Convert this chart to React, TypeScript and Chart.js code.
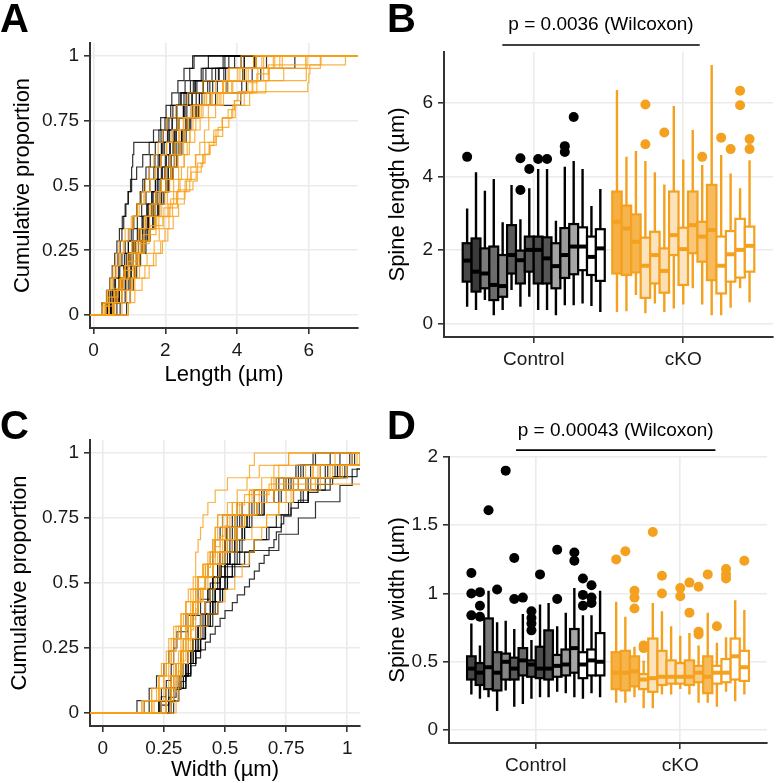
import React, { useEffect, useRef } from 'react';
import { Chart, registerables } from 'chart.js';
Chart.register(...registerables);

const FONT = "'Liberation Sans', Arial, Helvetica, sans-serif";
Chart.defaults.font.family = FONT;

// ---------- styles ----------
const CTRL_LINE = 'rgba(0,0,0,0.8)';
const CKO_LINE = 'rgba(247,160,25,0.8)';
const CTRL_STROKE = '#000000';
const CKO_STROKE = '#F4A11F';
const GRID = '#EBEBEB';
const AXIS = '#333333';
const TEXT = '#1a1a1a';
const CTRL_FILLS = ['#474747', '#3a3a3a', '#7a7a7a', '#6b6b6b', '#858585', '#5a5a5a', '#6a6a6a', '#545454', '#4b4b4b', '#555555', '#a3a3a3', '#9a9a9a', '#a6a6a6', '#ffffff', '#ffffff', '#ffffff'];
const CKO_FILL_ALPHA = [0.85, 0.8, 0.8, 0.3, 0.3, 0.35, 0.3, 0.28, 0.6, 0.55, 0.72, 0, 0, 0, 0];

// ---------- categories & ticks ----------
const GROUPS = ['Control', 'cKO'];
const PROP_TICKS = [0, 0.25, 0.5, 0.75, 1];
const PROP_LABELS = ['0', '0.25', '0.5', '0.75', '1'];
const LEN_X_TICKS = [0, 2, 4, 6];
const LEN_X_LABELS = ['0', '2', '4', '6'];
const WID_X_TICKS = [0, 0.25, 0.5, 0.75, 1];
const WID_X_LABELS = ['0', '0.25', '0.5', '0.75', '1'];
const LEN_Y_TICKS = [0, 2, 4, 6];
const LEN_Y_LABELS = ['0', '2', '4', '6'];
const WID_Y_TICKS = [0, 0.5, 1, 1.5, 2];
const WID_Y_LABELS = ['0', '0.5', '1', '1.5', '2'];
const GROUP_TICKS = [1, 2];
const P_LABEL_LENGTH = 'p = 0.0036 (Wilcoxon)';
const P_LABEL_WIDTH = 'p = 0.00043 (Wilcoxon)';

// ---------- per-animal spine lengths (µm) ----------
const ctrlLength: number[][] = [
  [0.47, 0.62, 0.81, 0.93, 1.04, 1.15, 1.29, 1.38, 1.51, 1.63, 1.72, 1.80, 1.88, 1.97, 2.08, 2.19, 2.31, 2.52, 2.78, 3.13, 4.53],
  [0.38, 0.52, 0.61, 0.70, 0.79, 0.88, 0.98, 1.10, 1.21, 1.33, 1.42, 1.55, 1.71, 1.90, 2.12, 2.32, 2.51, 2.75, 3.06, 3.48, 4.11],
  [0.65, 0.71, 0.78, 0.84, 0.91, 0.97, 1.05, 1.12, 1.21, 1.30, 1.37, 1.46, 1.58, 1.72, 1.88, 2.05, 2.21, 2.44, 2.70, 3.05, 3.61],
  [0.24, 0.36, 0.45, 0.52, 0.59, 0.65, 0.72, 0.80, 0.88, 0.97, 1.06, 1.20, 1.37, 1.55, 1.82, 2.10, 2.32, 2.58, 2.88, 3.30, 3.93],
  [0.38, 0.47, 0.55, 0.61, 0.68, 0.74, 0.79, 0.84, 0.90, 0.96, 1.03, 1.06, 1.09, 1.12, 1.67, 1.87, 2.02, 2.18, 2.35, 2.52, 2.76],
  [0.92, 1.02, 1.11, 1.20, 1.29, 1.37, 1.46, 1.55, 1.66, 1.77, 1.87, 1.98, 2.10, 2.26, 2.47, 2.68, 2.85, 3.02, 3.24, 3.50, 3.77],
  [0.47, 0.63, 0.78, 0.89, 1.00, 1.10, 1.22, 1.35, 1.48, 1.62, 1.73, 1.79, 1.84, 1.89, 1.94, 1.99, 2.15, 2.38, 2.84, 3.63, 4.49],
  [0.74, 0.88, 1.02, 1.15, 1.29, 1.42, 1.55, 1.66, 1.78, 1.90, 2.01, 2.08, 2.15, 2.22, 2.30, 2.37, 2.52, 2.74, 3.05, 3.68, 4.20],
  [0.38, 0.56, 0.71, 0.85, 0.98, 1.10, 1.28, 1.45, 1.64, 1.83, 2.01, 2.08, 2.15, 2.22, 2.30, 2.37, 2.60, 2.95, 3.45, 4.20, 4.47],
  [0.38, 0.55, 0.70, 0.84, 0.97, 1.10, 1.24, 1.38, 1.52, 1.66, 1.78, 1.89, 2.00, 2.12, 2.24, 2.35, 2.55, 2.86, 3.32, 4.20, 4.47],
  [0.24, 0.42, 0.59, 0.73, 0.86, 0.97, 1.10, 1.22, 1.34, 1.46, 1.57, 1.68, 1.80, 1.93, 2.06, 2.19, 2.31, 2.43, 2.55, 2.68, 2.80],
  [0.51, 0.66, 0.80, 0.93, 1.10, 1.25, 1.38, 1.50, 1.62, 1.75, 1.87, 2.01, 2.15, 2.30, 2.45, 2.60, 2.88, 3.40, 4.26, 4.66, 4.82],
  [0.51, 0.72, 0.90, 1.05, 1.21, 1.35, 1.50, 1.65, 1.81, 1.96, 2.10, 2.22, 2.34, 2.46, 2.58, 2.71, 2.93, 3.25, 3.72, 4.42, 5.61],
  [0.56, 0.78, 0.98, 1.15, 1.31, 1.46, 1.58, 1.71, 1.84, 1.97, 2.10, 2.20, 2.31, 2.41, 2.52, 2.62, 2.93, 4.10, 4.13, 4.16, 4.20],
  [0.49, 0.70, 0.88, 1.04, 1.19, 1.33, 1.43, 1.53, 1.63, 1.73, 1.82, 1.92, 2.03, 2.14, 2.26, 2.37, 2.50, 2.65, 2.82, 3.00, 3.20],
  [0.33, 0.52, 0.70, 0.86, 1.02, 1.17, 1.36, 1.54, 1.71, 1.88, 2.05, 2.15, 2.25, 2.36, 2.46, 2.57, 2.75, 2.95, 3.18, 3.40, 3.66],
];

const ckoLength: number[][] = [
  [0.33, 0.52, 0.68, 0.83, 0.97, 1.10, 1.24, 1.37, 1.55, 1.74, 1.93, 2.13, 2.34, 2.55, 2.77, 2.89, 3.00, 3.11, 3.23, 3.35, 3.47, 3.59, 3.75, 3.92, 4.10, 4.30, 4.55, 4.87, 6.34],
  [0.35, 0.58, 0.80, 0.99, 1.17, 1.33, 1.57, 1.82, 2.07, 2.33, 2.59, 2.71, 2.84, 2.96, 3.09, 3.21, 3.40, 3.62, 3.88, 4.18, 4.53],
  [0.79, 0.92, 1.05, 1.17, 1.29, 1.40, 1.57, 1.73, 1.90, 2.06, 2.23, 2.37, 2.52, 2.67, 2.82, 2.97, 3.20, 3.50, 3.85, 4.25, 4.69],
  [0.29, 0.38, 0.46, 0.54, 0.62, 0.71, 0.88, 1.05, 1.22, 1.40, 1.58, 1.73, 1.88, 2.03, 2.18, 2.34, 2.80, 3.55, 4.42, 4.87, 5.95],
  [0.56, 0.67, 0.78, 0.88, 0.99, 1.10, 1.26, 1.41, 1.57, 1.72, 1.87, 1.99, 2.12, 2.24, 2.37, 2.50, 2.78, 3.08, 3.40, 3.75, 4.11],
  [0.33, 0.44, 0.55, 0.65, 0.75, 0.85, 0.97, 1.09, 1.21, 1.33, 1.44, 1.56, 1.68, 1.80, 1.93, 2.05, 2.30, 2.62, 3.05, 3.78, 5.19],
  [0.42, 0.80, 1.15, 1.43, 1.67, 1.87, 1.99, 2.10, 2.20, 2.31, 2.41, 2.62, 2.85, 3.10, 3.35, 3.59, 3.95, 4.35, 4.80, 5.30, 5.91],
  [0.53, 0.63, 0.74, 0.85, 0.95, 1.06, 1.25, 1.45, 1.64, 1.84, 2.03, 2.15, 2.26, 2.38, 2.50, 2.61, 2.90, 3.25, 3.62, 4.02, 4.46],
  [0.97, 1.15, 1.35, 1.55, 1.74, 1.92, 2.07, 2.22, 2.37, 2.53, 2.68, 2.86, 3.04, 3.22, 3.41, 3.59, 3.88, 4.20, 4.55, 4.90, 5.26],
  [0.53, 0.80, 1.05, 1.28, 1.49, 1.69, 1.83, 1.96, 2.10, 2.23, 2.37, 2.45, 2.53, 2.61, 2.69, 2.77, 3.00, 3.30, 3.75, 4.31, 4.53],
  [0.24, 0.40, 0.56, 0.70, 0.84, 0.96, 1.08, 1.19, 1.38, 1.57, 1.76, 1.96, 2.15, 2.35, 2.55, 2.72, 2.90, 3.07, 3.25, 3.42, 3.60, 3.77, 3.85, 3.93, 4.02, 5.97, 6.00, 6.03, 7.02],
  [0.24, 0.37, 0.49, 0.61, 0.72, 0.83, 0.97, 1.12, 1.27, 1.43, 1.58, 1.73, 1.88, 2.04, 2.20, 2.37, 2.70, 3.10, 3.60, 4.58, 5.05],
  [0.44, 0.59, 0.74, 0.88, 1.02, 1.15, 1.30, 1.45, 1.60, 1.75, 1.89, 2.02, 2.14, 2.27, 2.40, 2.52, 2.80, 3.15, 3.60, 4.08, 4.74],
  [0.97, 1.03, 1.09, 1.15, 1.20, 1.26, 1.41, 1.56, 1.71, 1.86, 2.01, 2.18, 2.35, 2.51, 2.68, 2.85, 3.05, 3.30, 3.68, 5.93, 6.32],
  [0.59, 0.78, 0.95, 1.11, 1.27, 1.42, 1.56, 1.70, 1.84, 1.98, 2.12, 2.22, 2.33, 2.43, 2.54, 2.64, 2.95, 3.45, 4.44, 4.74, 5.01],
];

// ---------- per-animal spine widths (µm) ----------
const ctrlWidth: number[][] = [
  [0.26, 0.29, 0.31, 0.33, 0.35, 0.37, 0.38, 0.40, 0.42, 0.43, 0.45, 0.47, 0.48, 0.50, 0.52, 0.54, 0.62, 0.78, 0.84, 1.00, 1.15],
  [0.23, 0.26, 0.28, 0.30, 0.32, 0.33, 0.35, 0.37, 0.39, 0.40, 0.42, 0.43, 0.45, 0.46, 0.48, 0.49, 0.55, 0.62, 0.83, 0.91, 1.01],
  [0.24, 0.26, 0.28, 0.29, 0.303, 0.35, 0.40, 0.44, 0.48, 0.60, 0.72, 0.80, 0.87, 0.97, 1.02, 1.61],
  [0.14, 0.19, 0.22, 0.25, 0.27, 0.29, 0.32, 0.34, 0.37, 0.39, 0.42, 0.45, 0.48, 0.51, 0.54, 0.57, 0.61, 0.66, 0.72, 0.79, 1.03],
  [0.29, 0.31, 0.33, 0.34, 0.36, 0.37, 0.40, 0.42, 0.45, 0.48, 0.50, 0.51, 0.52, 0.53, 0.55, 0.56, 0.60, 0.65, 0.71, 0.80, 1.90],
  [0.17, 0.24, 0.29, 0.32, 0.35, 0.37, 0.39, 0.40, 0.42, 0.44, 0.45, 0.47, 0.48, 0.50, 0.51, 0.53, 0.57, 0.62, 0.74, 0.96, 1.26],
  [0.19, 0.26, 0.31, 0.35, 0.38, 0.40, 0.42, 0.45, 0.47, 0.49, 0.51, 0.53, 0.55, 0.57, 0.58, 0.60, 0.65, 0.70, 0.77, 0.85, 0.97],
  [0.23, 0.27, 0.31, 0.34, 0.37, 0.39, 0.42, 0.43, 0.45, 0.46, 0.48, 0.485, 0.49, 0.50, 0.505, 0.51, 0.66, 0.73, 0.78, 0.82, 0.87],
  [0.24, 0.28, 0.31, 0.33, 0.36, 0.38, 0.39, 0.41, 0.42, 0.44, 0.45, 0.48, 0.51, 0.55, 0.58, 0.61, 0.66, 0.72, 0.80, 0.92, 1.14],
  [0.24, 0.28, 0.31, 0.33, 0.35, 0.37, 0.39, 0.40, 0.42, 0.43, 0.45, 0.50, 0.56, 0.62, 0.68, 0.73, 0.77, 0.81, 0.85, 0.89, 0.93],
  [0.28, 0.31, 0.33, 0.35, 0.37, 0.39, 0.41, 0.42, 0.44, 0.45, 0.47, 0.48, 0.50, 0.52, 0.53, 0.55, 0.60, 0.67, 0.76, 0.96, 1.32],
  [0.27, 0.31, 0.34, 0.36, 0.38, 0.40, 0.42, 0.43, 0.45, 0.46, 0.48, 0.50, 0.52, 0.54, 0.57, 0.59, 0.64, 0.70, 0.75, 0.81, 0.86],
  [0.24, 0.27, 0.30, 0.32, 0.34, 0.36, 0.38, 0.40, 0.42, 0.44, 0.46, 0.48, 0.50, 0.53, 0.55, 0.58, 0.60, 0.62, 0.64, 0.66, 0.68, 0.70, 0.71, 0.73, 0.74, 0.77, 0.80, 0.84, 0.88, 0.94, 1.04, 1.24, 1.30],
  [0.23, 0.28, 0.31, 0.34, 0.36, 0.38, 0.40, 0.42, 0.44, 0.46, 0.48, 0.50, 0.52, 0.54, 0.55, 0.57, 0.63, 0.84, 0.91, 0.99, 1.11],
  [0.27, 0.31, 0.34, 0.36, 0.38, 0.40, 0.42, 0.44, 0.47, 0.49, 0.51, 0.53, 0.54, 0.56, 0.57, 0.59, 0.65, 0.84, 0.93, 0.97, 1.06],
  [0.24, 0.29, 0.32, 0.35, 0.38, 0.40, 0.42, 0.44, 0.46, 0.48, 0.50, 0.54, 0.58, 0.62, 0.67, 0.71, 0.76, 0.82, 0.88, 0.95, 1.02],
];

const ckoWidth: number[][] = [
  [0.20, 0.23, 0.25, 0.27, 0.29, 0.30, 0.32, 0.35, 0.37, 0.40, 0.42, 0.45, 0.48, 0.51, 0.54, 0.57, 0.63, 0.70, 0.80, 0.94, 1.25],
  [0.20, 0.23, 0.25, 0.26, 0.28, 0.29, 0.32, 0.34, 0.37, 0.39, 0.42, 0.45, 0.48, 0.51, 0.55, 0.58, 0.62, 0.67, 0.74, 0.83, 1.31],
  [0.24, 0.26, 0.28, 0.29, 0.31, 0.32, 0.34, 0.36, 0.38, 0.41, 0.43, 0.45, 0.47, 0.49, 0.52, 0.54, 0.57, 0.61, 0.89, 0.97, 1.02],
  [0.16, 0.20, 0.23, 0.26, 0.28, 0.30, 0.31, 0.33, 0.34, 0.35, 0.37, 0.38, 0.38, 0.39, 0.40, 0.41, 0.43, 0.46, 0.51, 0.60, 0.62],
  [0.16, 0.20, 0.23, 0.25, 0.27, 0.28, 0.30, 0.32, 0.34, 0.36, 0.38, 0.43, 0.49, 0.55, 0.61, 0.67, 0.72, 0.78, 0.85, 0.93, 1.45],
  [0.26, 0.28, 0.29, 0.30, 0.32, 0.33, 0.34, 0.35, 0.36, 0.38, 0.39, 0.42, 0.46, 0.50, 0.54, 0.58, 0.65, 0.75, 0.87, 1.00, 1.13],
  [0.26, 0.28, 0.30, 0.31, 0.33, 0.34, 0.35, 0.36, 0.37, 0.38, 0.39, 0.41, 0.44, 0.46, 0.49, 0.51, 0.55, 0.60, 0.65, 0.70, 0.76],
  [0.30, 0.31, 0.32, 0.32, 0.33, 0.34, 0.35, 0.36, 0.37, 0.38, 0.39, 0.41, 0.43, 0.45, 0.47, 0.49, 0.53, 0.60, 0.69, 0.98, 1.04],
  [0.26, 0.28, 0.29, 0.30, 0.32, 0.33, 0.34, 0.35, 0.37, 0.38, 0.39, 0.41, 0.44, 0.46, 0.49, 0.51, 0.56, 0.64, 0.71, 0.86, 1.08],
  [0.20, 0.25, 0.28, 0.31, 0.33, 0.35, 0.36, 0.38, 0.39, 0.41, 0.42, 0.43, 0.44, 0.45, 0.46, 0.47, 0.53, 0.62, 0.70, 0.72, 1.05],
  [0.20, 0.22, 0.23, 0.24, 0.26, 0.27, 0.29, 0.32, 0.34, 0.37, 0.39, 0.42, 0.45, 0.48, 0.51, 0.54, 0.60, 0.67, 0.75, 0.86, 1.14],
  [0.17, 0.23, 0.27, 0.30, 0.32, 0.34, 0.36, 0.37, 0.39, 0.40, 0.42, 0.43, 0.44, 0.45, 0.46, 0.47, 0.51, 0.55, 0.59, 0.64, 0.76],
  [0.28, 0.29, 0.30, 0.31, 0.32, 0.34, 0.35, 0.36, 0.37, 0.38, 0.39, 0.40, 0.42, 0.43, 0.44, 0.46, 0.48, 0.50, 0.52, 0.55, 0.58, 0.68, 1.11, 1.14, 1.18],
  [0.21, 0.26, 0.30, 0.32, 0.35, 0.37, 0.40, 0.43, 0.47, 0.50, 0.54, 0.57, 0.60, 0.62, 0.65, 0.67, 0.72, 0.77, 0.83, 0.89, 0.95],
  [0.26, 0.29, 0.31, 0.33, 0.35, 0.36, 0.38, 0.40, 0.42, 0.44, 0.46, 0.48, 0.50, 0.53, 0.55, 0.58, 0.63, 0.70, 0.78, 0.88, 1.24],
];

// ---------- helpers ----------
const DODGE = 0.95;

function sorted(a: number[]) {
  return [...a].sort((p, q) => p - q);
}

function quantile7(s: number[], p: number) {
  const h = (s.length - 1) * p;
  const i = Math.floor(h);
  const f = h - i;
  return i + 1 < s.length ? s[i] + f * (s[i + 1] - s[i]) : s[i];
}

function boxStats(samples: number[]) {
  const s = sorted(samples);
  const q1 = quantile7(s, 0.25);
  const med = quantile7(s, 0.5);
  const q3 = quantile7(s, 0.75);
  const iqr = q3 - q1;
  const lo = q1 - 1.5 * iqr;
  const hi = q3 + 1.5 * iqr;
  const inside = s.filter((v) => v >= lo && v <= hi);
  return {
    q1, med, q3,
    wlo: inside[0],
    whi: inside[inside.length - 1],
    out: s.filter((v) => v < lo || v > hi),
  };
}

function ecdfPoints(samples: number[], xmin: number, xmax: number) {
  const s = sorted(samples);
  const n = s.length;
  const pts: { x: number; y: number }[] = [{ x: xmin, y: 0 }];
  let last = 0;
  s.forEach((v, i) => {
    if (v <= xmax) {
      pts.push({ x: v, y: (i + 1) / n });
      last = (i + 1) / n;
    }
  });
  pts.push({ x: xmax, y: last });
  return pts;
}

function hexToRgba(hex: string, a: number) {
  const r = parseInt(hex.slice(1, 3), 16);
  const g = parseInt(hex.slice(3, 5), 16);
  const b = parseInt(hex.slice(5, 7), 16);
  return `rgba(${r},${g},${b},${a})`;
}

type Spec = {
  pad: { top: number; right: number; left: number; bottom: number };
  yWidth: number;
  xHeight: number;
  xMin: number; xMax: number; yMin: number; yMax: number;
  xTicks: number[]; xLabels: string[];
  yTicks: number[]; yLabels: string[];
  xTitle?: string; xTitlePad?: number;
  yTitle: string; yTitlePad: number;
};

function makeScales(spec: Spec) {
  const tickFont = { family: FONT, size: 19 };
  const titleFont = { family: FONT, size: 22 };
  return {
    x: {
      type: 'linear',
      min: spec.xMin,
      max: spec.xMax,
      afterBuildTicks: (s: any) => { s.ticks = spec.xTicks.map((v) => ({ value: v })); },
      afterFit: (s: any) => { s.height = spec.xHeight; },
      ticks: {
        callback: (_v: any, i: number) => spec.xLabels[i],
        font: tickFont, color: TEXT, padding: 5,
        maxRotation: 0, minRotation: 0, autoSkip: false,
      },
      grid: { color: GRID, lineWidth: 1.6, tickColor: AXIS, tickLength: 6, drawTicks: true },
      border: { display: true, color: AXIS, width: 2 },
      title: spec.xTitle
        ? { display: true, text: spec.xTitle, font: titleFont, color: '#000', padding: { top: 0, bottom: spec.xTitlePad ?? 0 } }
        : { display: false },
    },
    y: {
      type: 'linear',
      min: spec.yMin,
      max: spec.yMax,
      afterBuildTicks: (s: any) => { s.ticks = spec.yTicks.map((v) => ({ value: v })); },
      afterFit: (s: any) => { s.width = spec.yWidth; },
      ticks: {
        callback: (_v: any, i: number) => spec.yLabels[i],
        font: tickFont, color: TEXT, padding: 5, autoSkip: false,
      },
      grid: { color: GRID, lineWidth: 1.6, tickColor: AXIS, tickLength: 6, drawTicks: true },
      border: { display: true, color: AXIS, width: 2 },
      title: { display: true, text: spec.yTitle, font: titleFont, color: '#000', padding: { top: spec.yTitlePad, bottom: 0 } },
    },
  };
}

function baseOptions(spec: Spec) {
  return {
    responsive: false,
    animation: false,
    devicePixelRatio: 1,
    layout: { padding: spec.pad },
    plugins: { legend: { display: false }, tooltip: { enabled: false } },
    scales: makeScales(spec),
  };
}

function ecdfConfig(ctrl: number[][], cko: number[][], spec: Spec): any {
  const mk = (s: number[], color: string) => ({
    data: ecdfPoints(s, spec.xMin, spec.xMax),
    borderColor: color,
    borderWidth: 1.2,
    pointRadius: 0,
    stepped: true,
    fill: false,
    tension: 0,
  });
  return {
    type: 'line',
    data: {
      datasets: [...cko.map((s) => mk(s, CKO_LINE)), ...ctrl.map((s) => mk(s, CTRL_LINE))],
    },
    options: baseOptions(spec),
  };
}

type Box = ReturnType<typeof boxStats> & { center: number; half: number; stroke: string; fill: string; group: number };

function buildBoxes(ctrl: number[][], cko: number[][]): Box[] {
  const boxes: Box[] = [];
  [ctrl, cko].forEach((grp, g) => {
    const n = grp.length;
    const slot = DODGE / n;
    grp.forEach((samples, j) => {
      boxes.push({
        ...boxStats(samples),
        center: GROUP_TICKS[g] - DODGE / 2 + slot * (j + 0.5),
        half: slot / 2,
        stroke: g === 0 ? CTRL_STROKE : CKO_STROKE,
        fill: g === 0 ? CTRL_FILLS[j] : hexToRgba(CKO_STROKE, CKO_FILL_ALPHA[j]),
        group: g,
      });
    });
  });
  return boxes;
}

function boxConfig(ctrl: number[][], cko: number[][], spec: Spec, annot: { text: string; x0: number; x1: number; yLine: number; yText: number }): any {
  const boxes = buildBoxes(ctrl, cko);
  const boxPlugin = {
    id: 'boxes',
    beforeDatasetsDraw(chart: any) {
      const { ctx, scales } = chart;
      const xs = scales.x;
      const ys = scales.y;
      ctx.save();
      boxes.forEach((b) => {
        const cx = xs.getPixelForValue(b.center);
        const hw = xs.getPixelForValue(b.center + b.half) - cx;
        const py = (v: number) => ys.getPixelForValue(v);
        ctx.strokeStyle = b.stroke;
        ctx.lineWidth = 2.4;
        ctx.beginPath();
        ctx.moveTo(cx, py(b.whi));
        ctx.lineTo(cx, py(b.q3));
        ctx.moveTo(cx, py(b.q1));
        ctx.lineTo(cx, py(b.wlo));
        ctx.stroke();
        const top = py(b.q3);
        const h = py(b.q1) - top;
        ctx.fillStyle = '#ffffff';
        ctx.fillRect(cx - hw, top, 2 * hw, h);
        ctx.fillStyle = b.fill;
        ctx.fillRect(cx - hw, top, 2 * hw, h);
        ctx.lineWidth = 2.2;
        ctx.strokeRect(cx - hw, top, 2 * hw, h);
        ctx.lineWidth = 4;
        ctx.beginPath();
        ctx.moveTo(cx - hw, py(b.med));
        ctx.lineTo(cx + hw, py(b.med));
        ctx.stroke();
      });
      ctx.restore();
    },
  };
  const annotPlugin = {
    id: 'annot',
    afterDraw(chart: any) {
      const { ctx, scales } = chart;
      const xs = scales.x;
      const ys = scales.y;
      ctx.save();
      ctx.strokeStyle = '#000';
      ctx.lineWidth = 1.6;
      ctx.beginPath();
      ctx.moveTo(xs.getPixelForValue(annot.x0), ys.getPixelForValue(annot.yLine));
      ctx.lineTo(xs.getPixelForValue(annot.x1), ys.getPixelForValue(annot.yLine));
      ctx.stroke();
      ctx.fillStyle = '#000';
      ctx.font = `19px ${FONT}`;
      ctx.textAlign = 'center';
      ctx.textBaseline = 'middle';
      ctx.fillText(annot.text, xs.getPixelForValue((annot.x0 + annot.x1) / 2), ys.getPixelForValue(annot.yText));
      ctx.restore();
    },
  };
  const outliers = (g: number) =>
    boxes.filter((b) => b.group === g).flatMap((b) => b.out.map((v) => ({ x: b.center, y: v })));
  return {
    type: 'scatter',
    data: {
      datasets: [
        { data: outliers(0), backgroundColor: CTRL_STROKE, borderWidth: 0, pointRadius: 5 },
        { data: outliers(1), backgroundColor: CKO_STROKE, borderWidth: 0, pointRadius: 5 },
      ],
    },
    options: baseOptions(spec),
    plugins: [boxPlugin, annotPlugin],
  };
}

// ---------- panel specs ----------
const specA: Spec = {
  pad: { top: 43, right: 32, left: 0, bottom: 0 }, yWidth: 90, xHeight: 62,
  xMin: -0.1, xMax: 7.37, yMin: -0.05, yMax: 1.05,
  xTicks: LEN_X_TICKS, xLabels: LEN_X_LABELS, yTicks: PROP_TICKS, yLabels: PROP_LABELS,
  xTitle: 'Length (µm)', xTitlePad: 2, yTitle: 'Cumulative proportion', yTitlePad: 10,
};
const specB: Spec = {
  pad: { top: 52, right: 1, left: 0, bottom: 0 }, yWidth: 60, xHeight: 53,
  xMin: 0.4, xMax: 2.6, yMin: -0.35, yMax: 7.37,
  xTicks: GROUP_TICKS, xLabels: GROUPS, yTicks: LEN_Y_TICKS, yLabels: LEN_Y_LABELS,
  yTitle: 'Spine length (µm)', yTitlePad: 1,
};
const specC: Spec = {
  pad: { top: 45, right: 30, left: 0, bottom: 0 }, yWidth: 90, xHeight: 57,
  xMin: -0.052, xMax: 1.052, yMin: -0.05, yMax: 1.05,
  xTicks: WID_X_TICKS, xLabels: WID_X_LABELS, yTicks: PROP_TICKS, yLabels: PROP_LABELS,
  xTitle: 'Width (µm)', xTitlePad: 0, yTitle: 'Cumulative proportion', yTitlePad: 7,
};
const specD: Spec = {
  pad: { top: 62, right: 11, left: 0, bottom: 0 }, yWidth: 65, xHeight: 40,
  xMin: 0.4, xMax: 2.6, yMin: -0.095, yMax: 2.0,
  xTicks: GROUP_TICKS, xLabels: GROUPS, yTicks: WID_Y_TICKS, yLabels: WID_Y_LABELS,
  yTitle: 'Spine width (µm)', yTitlePad: 1,
};

function ChartCanvas({ left, top, width, height, make }: { left: number; top: number; width: number; height: number; make: () => any }) {
  const ref = useRef<HTMLCanvasElement>(null);
  useEffect(() => {
    const chart = new Chart(ref.current as HTMLCanvasElement, make());
    return () => chart.destroy();
  }, []);
  return (
    <canvas
      ref={ref}
      width={width}
      height={height}
      style={{ position: 'absolute', left, top, width, height, display: 'block' }}
    />
  );
}

const letter: React.CSSProperties = {
  position: 'absolute',
  fontFamily: FONT,
  fontWeight: 700,
  fontSize: 40,
  lineHeight: '40px',
  color: '#000',
};

export default function App() {
  return (
    <div style={{ position: 'absolute', left: 0, top: 0, width: 778, height: 783, overflow: 'hidden', background: '#fff' }}>
      <ChartCanvas left={0} top={0} width={390} height={390} make={() => ecdfConfig(ctrlLength, ckoLength, specA)} />
      <ChartCanvas
        left={384} top={0} width={394} height={390}
        make={() => boxConfig(ctrlLength, ckoLength, specB, { text: P_LABEL_LENGTH, x0: 0.79, x1: 2.11, yLine: 7.56, yText: 8.1 })}
      />
      <ChartCanvas left={0} top={395} width={390} height={388} make={() => ecdfConfig(ctrlWidth, ckoWidth, specC)} />
      <ChartCanvas
        left={384} top={395} width={394} height={388}
        make={() => boxConfig(ctrlWidth, ckoWidth, specD, { text: P_LABEL_WIDTH, x0: 0.864, x1: 2.243, yLine: 2.05, yText: 2.19 })}
      />
      <div style={{ ...letter, left: 0, top: -2 }}>A</div>
      <div style={{ ...letter, left: 387, top: -2 }}>B</div>
      <div style={{ ...letter, left: 0, top: 405 }}>C</div>
      <div style={{ ...letter, left: 387, top: 405 }}>D</div>
    </div>
  );
}
